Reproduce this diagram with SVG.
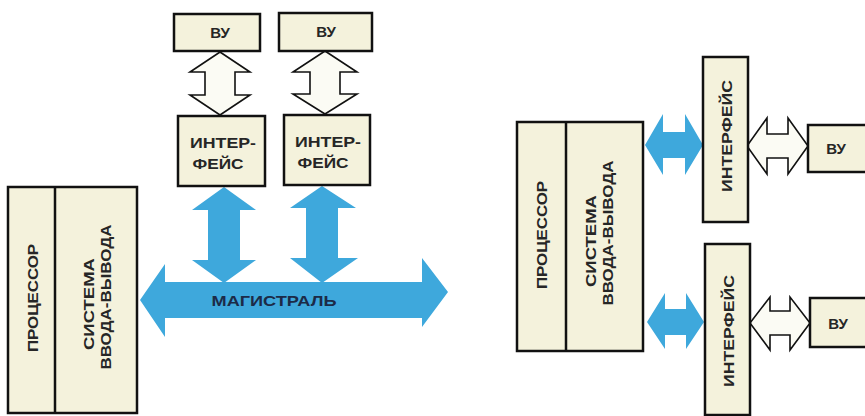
<svg xmlns="http://www.w3.org/2000/svg" width="865" height="416" viewBox="0 0 865 416">
<defs>
<linearGradient id="gv" x1="0" y1="0" x2="0" y2="1"><stop offset="0" stop-color="#3aa6db"/><stop offset="0.5" stop-color="#7cc6e8"/><stop offset="1" stop-color="#3aa6db"/></linearGradient>
<linearGradient id="gh" x1="0" y1="0" x2="1" y2="0"><stop offset="0" stop-color="#3ea8dc"/><stop offset="0.5" stop-color="#5cb8e4"/><stop offset="1" stop-color="#3ea8dc"/></linearGradient>
</defs>
<style>
.box{fill:#f4f2dc;stroke:#111;stroke-width:2.5}
.hol{fill:#fbfbf4;stroke:#111;stroke-width:1.6;stroke-linejoin:miter}
.blue{fill:#3ea8dc}
.t{font-family:"Liberation Sans",Arial,sans-serif;font-size:15px;font-weight:bold;fill:#262626;text-anchor:middle;dominant-baseline:central}
.tb{font-family:"Liberation Sans",Arial,sans-serif;font-size:15px;font-weight:bold;fill:#1c2b48;text-anchor:middle;dominant-baseline:central}
</style>
<rect width="865" height="416" fill="#ffffff"/>

<g id="connectors">
<path class="blue" fill="url(#gh)" d="M140,300 L165,264 L165,282 L422,282 L422,258 L448,292 L422,327 L422,318 L165,318 L165,337 Z"/>
<path class="blue" fill="url(#gv)" d="M224,187 L256,210 L240,210 L240,260 L256,260 L224,283 L192,260 L208,260 L208,210 L192,210 Z"/>
<path class="blue" fill="url(#gv)" d="M322,186 L356,208 L338,208 L338,258 L358,258 L322,283 L290,258 L306,258 L306,208 L290,208 Z"/>
<path class="hol" d="M220,52 L250,72 L235,72 L235,95 L250,95 L220,115 L190,95 L205,95 L205,72 L190,72 Z"/>
<path class="hol" d="M325,51 L357,72 L340,72 L340,94 L357,94 L325,114 L293,94 L310,94 L310,72 L293,72 Z"/>
<path class="blue" d="M645,145 L663,114 L663,132 L685,132 L685,114 L703,145 L685,175 L685,158 L663,158 L663,175 Z"/>
<path class="blue" d="M647,322 L665,293 L665,309 L686,309 L686,293 L704,322 L686,349 L686,335 L665,335 L665,349 Z"/>
<path class="hol" d="M747,146 L767,118 L767,134 L788,134 L788,118 L808,146 L788,174 L788,158 L767,158 L767,174 Z"/>
<path class="hol" d="M750,323 L770,297 L770,311 L790,311 L790,297 L810,323 L790,350 L790,335 L770,335 L770,350 Z"/>
</g>

<g id="cpu-left">
<rect class="box" x="8" y="187" width="129" height="226"/>
<line x1="55" y1="187" x2="55" y2="413" stroke="#111" stroke-width="2.5"/>
<text class="t" transform="translate(32,298) rotate(-90)" textLength="108" lengthAdjust="spacingAndGlyphs">ПРОЦЕССОР</text>
<text class="t" transform="translate(88,304) rotate(-90)" textLength="92" lengthAdjust="spacingAndGlyphs">СИСТЕМА</text>
<text class="t" transform="translate(105,297) rotate(-90)" textLength="145" lengthAdjust="spacingAndGlyphs">ВВОДА-ВЫВОДА</text>
</g>

<g id="vu-top-1"><rect class="box" x="174" y="14" width="86" height="37"/><text class="t" x="220" y="32">ВУ</text></g>
<g id="vu-top-2"><rect class="box" x="279" y="13" width="93" height="38"/><text class="t" x="326" y="31">ВУ</text></g>
<g id="if-top-1"><rect class="box" x="178" y="116" width="87" height="70"/><text class="t" x="223" y="142" textLength="66" lengthAdjust="spacingAndGlyphs">ИНТЕР-</text><text class="t" x="218" y="163" textLength="51" lengthAdjust="spacingAndGlyphs">ФЕЙС</text></g>
<g id="if-top-2"><rect class="box" x="284" y="115" width="86" height="70"/><text class="t" x="328" y="141" textLength="66" lengthAdjust="spacingAndGlyphs">ИНТЕР-</text><text class="t" x="323" y="162" textLength="51" lengthAdjust="spacingAndGlyphs">ФЕЙС</text></g>

<g id="bus-label"><text class="tb" x="274" y="300" textLength="125" lengthAdjust="spacingAndGlyphs">МАГИСТРАЛЬ</text></g>

<g id="cpu-right">
<rect class="box" x="517" y="122" width="126" height="229"/>
<line x1="566" y1="122" x2="566" y2="351" stroke="#111" stroke-width="2.5"/>
<text class="t" transform="translate(541,235) rotate(-90)" textLength="108" lengthAdjust="spacingAndGlyphs">ПРОЦЕССОР</text>
<text class="t" transform="translate(590,241) rotate(-90)" textLength="92" lengthAdjust="spacingAndGlyphs">СИСТЕМА</text>
<text class="t" transform="translate(607,233) rotate(-90)" textLength="145" lengthAdjust="spacingAndGlyphs">ВВОДА-ВЫВОДА</text>
</g>

<g id="if-right-1"><rect class="box" x="703" y="57" width="45" height="165"/><text class="t" transform="translate(726,136) rotate(-90)" textLength="112" lengthAdjust="spacingAndGlyphs">ИНТЕРФЕЙС</text></g>
<g id="if-right-2"><rect class="box" x="705" y="244" width="45" height="171"/><text class="t" transform="translate(728,331) rotate(-90)" textLength="112" lengthAdjust="spacingAndGlyphs">ИНТЕРФЕЙС</text></g>
<g id="vu-right-1"><rect class="box" x="808" y="125" width="62" height="47"/><text class="t" x="836" y="148">ВУ</text></g>
<g id="vu-right-2"><rect class="box" x="810" y="298" width="62" height="49"/><text class="t" x="838" y="323">ВУ</text></g>
</svg>
